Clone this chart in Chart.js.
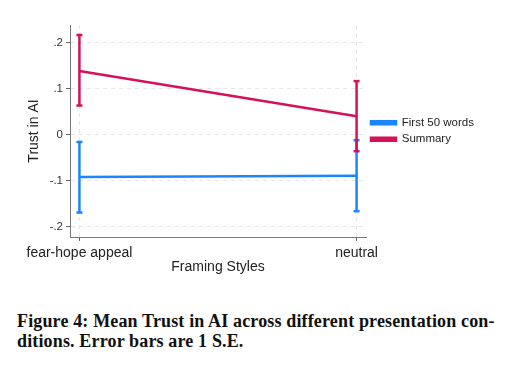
<!DOCTYPE html>
<html>
<head>
<meta charset="utf-8">
<script src="https://cdn.jsdelivr.net/npm/chart.js@4/dist/chart.umd.min.js"></script>
<style>
body{margin:0;background:#fff;width:527px;height:377px;overflow:hidden;position:relative}
#wrap{position:absolute;left:0;top:0;width:527px;height:280px}
#cap{position:absolute;left:17px;top:311px;font-family:"Liberation Serif",serif;font-weight:bold;font-size:18px;letter-spacing:0.15px;line-height:20px;color:#111;white-space:nowrap}
</style>
</head>
<body>
<div id="wrap"><canvas id="c"></canvas></div>
<div id="cap">Figure 4: Mean Trust in AI across different presentation con-<br>ditions. Error bars are 1 S.E.</div>
<script>
const categories=["fear-hope appeal","neutral"]
const yTicks=[-0.2,-0.1,0,0.1,0.2]

const first50Mean=[-0.092,-0.089]
const first50Low=[-0.169,-0.166]
const first50High=[-0.016,-0.012]

const summaryMean=[0.138,0.040]
const summaryLow=[0.063,-0.036]
const summaryHigh=[0.216,0.116]

const blue="#1a85ff"
const red="#d41159"

function lineSet(label,mean,color,order){
    return {
        label:label,
        data:mean.map((v,i)=>({x:i,y:v})),
        borderColor:color,
        backgroundColor:color,
        borderWidth:2.5,
        pointRadius:0,
        order:order
    }
}

function errSets(low,high,color,order){
    return low.map((lo,i)=>({
        label:"err",
        data:[{x:i,y:lo},{x:i,y:high[i]}],
        borderColor:color,
        backgroundColor:color,
        borderWidth:2.5,
        pointStyle:"line",
        pointRadius:3,
        pointBorderWidth:2.5,
        pointHoverRadius:3,
        order:order
    }))
}

const datasets=[
    lineSet("First 50 words",first50Mean,blue,4),
    lineSet("Summary",summaryMean,red,2),
    ...errSets(first50Low,first50High,blue,3),
    ...errSets(summaryLow,summaryHigh,red,1)
]

// legend: fixed width, centred on the plot area
const legendBox={
    id:"legendBox",
    afterInit(chart){
        const fit=chart.legend.fit
        chart.legend.fit=function(){
            fit.call(this)
            this.width=161
        }
    },
    afterLayout(chart){
        const lg=chart.legend
        lg.top=chart.chartArea.top
        lg.bottom=chart.chartArea.bottom
        lg.height=lg.bottom-lg.top
    }
}

const font="'Liberation Sans', Arial, sans-serif"

new Chart(document.getElementById("c"),{
    type:"line",
    data:{datasets:datasets},
    plugins:[legendBox],
    options:{
        responsive:true,
        maintainAspectRatio:false,
        animation:false,
        layout:{padding:{left:22,top:25,right:0,bottom:0}},
        plugins:{
            tooltip:{enabled:false},
            legend:{
                position:"right",
                labels:{
                    filter:item=>item.text!=="err",
                    sort:(a,b)=>a.datasetIndex-b.datasetIndex,
                    boxWidth:25,
                    boxHeight:3,
                    padding:5,
                    color:"#222",
                    font:{family:font,size:11.5}
                }
            }
        },
        scales:{
            x:{
                type:"linear",
                min:-0.034,
                max:1.034,
                afterBuildTicks:s=>{s.ticks=categories.map((c,i)=>({value:i}))},
                afterFit:s=>{s.height=43},
                ticks:{
                    callback:v=>categories[v],
                    color:"#222",
                    padding:4,
                    maxRotation:0,
                    font:{family:font,size:14}
                },
                grid:{color:"#e6e6e6",tickColor:"#666",tickLength:4},
                border:{color:"#777",width:1,dash:[4,4]},
                title:{display:true,text:"Framing Styles",color:"#222",font:{family:font,size:14}}
            },
            y:{
                min:-0.222,
                max:0.2376,
                afterBuildTicks:s=>{s.ticks=yTicks.map(v=>({value:v}))},
                afterFit:s=>{s.width=48},
                ticks:{
                    callback:v=>v===0?"0":v.toFixed(1).replace("0.","."),
                    color:"#333",
                    padding:3,
                    font:{family:font,size:11.5}
                },
                grid:{color:"#e6e6e6",tickColor:"#666",tickLength:4},
                border:{color:"#777",width:1,dash:[4,4]},
                title:{display:true,text:"Trust in AI",color:"#222",font:{family:font,size:14}}
            }
        }
    }
})
</script>
</body>
</html>
